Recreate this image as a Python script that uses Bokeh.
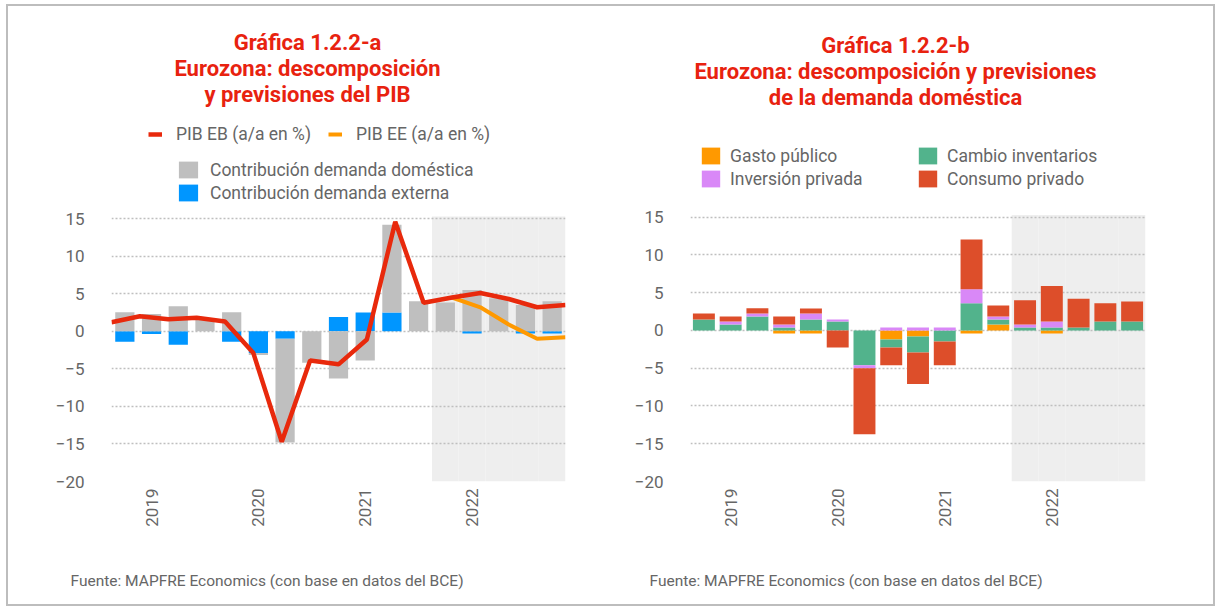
import math
import numpy as np
from bokeh.plotting import figure
from bokeh.models import Range1d, FixedTicker, Legend, LegendItem, Label, Title
from bokeh.layouts import row
from bokeh.embed import file_html
from bokeh.resources import INLINE

# ---------------- data ----------------
quarters = ["2018Q4", "2019Q1", "2019Q2", "2019Q3", "2019Q4",
            "2020Q1", "2020Q2", "2020Q3", "2020Q4",
            "2021Q1", "2021Q2", "2021Q3", "2021Q4",
            "2022Q1", "2022Q2", "2022Q3", "2022Q4"]
year_labels = {"2019Q1": "2019", "2020Q1": "2020", "2021Q1": "2021", "2022Q1": "2022"}
forecast_quarters = ["2021Q4", "2022Q1", "2022Q2", "2022Q3", "2022Q4"]
y_ticks = [-20, -15, -10, -5, 0, 5, 10, 15]
y_min, shade_top = -20, 15.3

# Chart a
contrib_domestica = [2.55, 2.3, 3.35, 1.6, 2.55, -0.25, -13.8, -4.2, -6.3, -3.9, 11.7, 4.0, 3.85, 5.5, 4.4, 3.5, 4.0]
contrib_externa = [-1.4, -0.35, -1.8, 0.0, -1.4, -2.9, -1.0, 0.0, 1.9, 2.5, 2.5, 0.0, 0.0, -0.3, 0.0, -0.3, -0.3]
pib_eb = [1.2, 2.0, 1.6, 1.8, 1.3, -2.9, -14.7, -3.9, -4.4, -1.1, 14.6, 3.8, 4.5, 5.1, 4.3, 3.2, 3.5]
pib_ee_quarters = ["2021Q4", "2022Q1", "2022Q2", "2022Q3", "2022Q4"]
pib_ee = [4.5, 3.2, 0.9, -1.0, -0.8]

# Chart b
gasto_publico = [0, 0, 0, -0.4, -0.4, 0, 0, -1.2, -0.8, 0, -0.4, 0.8, 0, -0.4, 0, 0, 0]
cambio_inventarios = [1.45, 0.8, 1.85, 0.4, 1.45, 1.2, -4.6, -1.05, -2.1, -1.45, 3.6, 0.65, 0.4, 0.4, 0.4, 1.2, 1.2]
inversion_privada = [0, 0.4, 0.4, 0.4, 0.8, 0.25, -0.4, 0.4, 0.4, 0.4, 1.85, 0.4, 0.4, 0.8, 0, 0, 0]
consumo_privado = [0.8, 0.65, 0.7, 1.05, 0.65, -2.25, -8.75, -2.35, -4.2, -3.15, 6.6, 1.45, 3.2, 4.7, 3.8, 2.4, 2.65]

FONT = "Roboto"
TXT = "#666666"
TITLE_RED = "#E8220F"
TITLE_SIZE = "22px"
LEG_SIZE = "17.5px"
FUENTE = "Fuente: MAPFRE Economics (con base en datos del BCE)"

# slot centre of each quarter on the numeric category axis
slot = {q: i + 0.5 for i, q in enumerate(quarters)}
xs = [slot[q] for q in quarters]


def stack(series_list):
    """Excel-like stacking: positives and negatives accumulate separately."""
    n = len(series_list[0])
    pos = np.zeros(n)
    neg = np.zeros(n)
    out = []
    for vals in series_list:
        v = np.asarray(vals, dtype=float)
        bottom = np.where(v >= 0, pos, neg)
        top = bottom + v
        pos = np.where(v >= 0, top, pos)
        neg = np.where(v < 0, top, neg)
        out.append((bottom, top))
    return out


def make_fig(width, height, left, right, bottom, y_top):
    # the frame also spans the header area, so titles/legends live inside it
    p = figure(x_range=Range1d(0, len(quarters)), y_range=Range1d(y_min, y_top),
               width=width, height=height, output_backend="svg", toolbar_location=None,
               min_border_left=left, min_border_right=right,
               min_border_top=0, min_border_bottom=bottom)
    p.outline_line_color = None
    p.background_fill_color = "white"
    p.border_fill_color = "white"
    p.xgrid.visible = False
    p.ygrid.grid_line_color = "#BFBFBF"
    p.ygrid.grid_line_dash = "2 2"
    p.ygrid.grid_line_width = 1.5
    p.yaxis.ticker = FixedTicker(ticks=y_ticks)
    p.xaxis.ticker = FixedTicker(ticks=[slot[q] for q in year_labels])
    p.xaxis.major_label_overrides = {slot[q]: lab for q, lab in year_labels.items()}
    for ax in (p.xaxis[0], p.yaxis[0]):
        ax.axis_line_color = None
        ax.major_tick_line_color = None
        ax.minor_tick_line_color = None
        ax.major_tick_out = 0
        ax.major_tick_in = 0
        ax.minor_tick_out = 0
        ax.minor_tick_in = 0
        ax.major_label_text_font = FONT
        ax.major_label_text_font_size = "17px"
        ax.major_label_text_color = TXT
    p.yaxis.major_label_standoff = 27
    p.xaxis.major_label_orientation = math.pi / 2
    p.xaxis.major_label_standoff = 7
    # forecast shading
    p.vbar(x=[slot[q] for q in forecast_quarters], top=shade_top, bottom=y_min,
           width=1.0, fill_color="#EEEEEE", line_color=None, level="image")
    # blank spacer below the axis, then the source note
    p.add_layout(Title(text=" ", standoff=0, text_font=FONT, text_font_size="32px"), "below")
    p.add_layout(Title(text=FUENTE, align="left", offset=-41, standoff=0,
                       text_font=FONT, text_font_size="15.5px", text_font_style="normal",
                       text_color=TXT), "below")
    return p


def add_label(p, x, y, text, size, color, bold=False, align="left"):
    p.add_layout(Label(x=x, y=y, x_units="screen", y_units="screen", text=text,
                       text_font=FONT, text_font_size=size, text_color=color,
                       text_font_style="bold" if bold else "normal",
                       text_align=align, text_baseline="middle"))


def legend(items, x, y, orientation="vertical", gw=24, gh=21, standoff=10, spacing=2):
    return Legend(items=items, location=(x, y), orientation=orientation,
                  glyph_width=gw, glyph_height=gh, label_height=gh, label_standoff=standoff,
                  spacing=spacing, padding=0, margin=0, border_line_color=None,
                  background_fill_alpha=0, label_text_font=FONT,
                  label_text_font_size=LEG_SIZE, label_text_color=TXT)


# ---------------- chart a ----------------
p1 = make_fig(603, 598, 103, 46, 120, 43.25)
p1.extra_x_ranges = {"idx": Range1d(0, len(quarters) - 1)}

(b_ext, t_ext), (b_dom, t_dom) = stack([contrib_externa, contrib_domestica])
r_ext = p1.vbar(x=xs, bottom=b_ext, top=t_ext, width=0.72, fill_color="#0096FF", line_color=None)
r_dom = p1.vbar(x=xs, bottom=b_dom, top=t_dom, width=0.72, fill_color="#BFBFBF", line_color=None)

# lines are drawn "on tick marks": first point at left edge, last at right edge
r_ee = p1.line(x=[quarters.index(q) for q in pib_ee_quarters], y=pib_ee, x_range_name="idx",
               line_color="#FF9900", line_width=4)
r_eb = p1.line(x=[quarters.index(q) for q in quarters], y=pib_eb, x_range_name="idx",
               line_color="#E8290C", line_width=4.5)

p1.add_layout(legend([LegendItem(label="PIB EB (a/a en %)", renderers=[r_eb]),
                      LegendItem(label="PIB EE (a/a en %)", renderers=[r_ee])],
                     37, 337, orientation="horizontal", gw=14, gh=20, standoff=14, spacing=17))
p1.add_layout(legend([LegendItem(label="Contribución demanda doméstica", renderers=[r_dom]),
                      LegendItem(label="Contribución demanda externa", renderers=[r_ext])],
                     65, 278))

add_label(p1, 196, 439, "Gráfica 1.2.2-a", TITLE_SIZE, TITLE_RED, bold=True, align="center")
add_label(p1, 196, 413, "Eurozona: descomposición", TITLE_SIZE, TITLE_RED, bold=True, align="center")
add_label(p1, 196, 387, "y previsiones del PIB", TITLE_SIZE, TITLE_RED, bold=True, align="center")

# ---------------- chart b ----------------
p2 = make_fig(602, 598, 79, 68, 123, 42.91)
stacks = stack([gasto_publico, cambio_inventarios, inversion_privada, consumo_privado])
colors = ["#FF9900", "#52B38C", "#D988F7", "#DD4E2A"]
rs = []
for (b, t), c in zip(stacks, colors):
    rs.append(p2.vbar(x=xs, bottom=b, top=t, width=0.82, fill_color=c, line_color=None))

p2.add_layout(legend([LegendItem(label="Gasto público", renderers=[rs[0]]),
                      LegendItem(label="Inversión privada", renderers=[rs[2]])],
                     9, 292, gw=23, standoff=8))
p2.add_layout(legend([LegendItem(label="Cambio inventarios", renderers=[rs[1]]),
                      LegendItem(label="Consumo privado", renderers=[rs[3]])],
                     226, 292, gw=23, standoff=8))

add_label(p2, 205, 436, "Gráfica 1.2.2-b", TITLE_SIZE, TITLE_RED, bold=True, align="center")
add_label(p2, 205, 410, "Eurozona: descomposición y previsiones", TITLE_SIZE, TITLE_RED, bold=True, align="center")
add_label(p2, 205, 384, "de la demanda doméstica", TITLE_SIZE, TITLE_RED, bold=True, align="center")

layout = row(p1, p2, styles={"border": "2px solid #BDBDBD", "margin-left": "6px", "margin-top": "4px"})

open("out.html", "w").write(file_html(layout, INLINE, "Eurozona"))
